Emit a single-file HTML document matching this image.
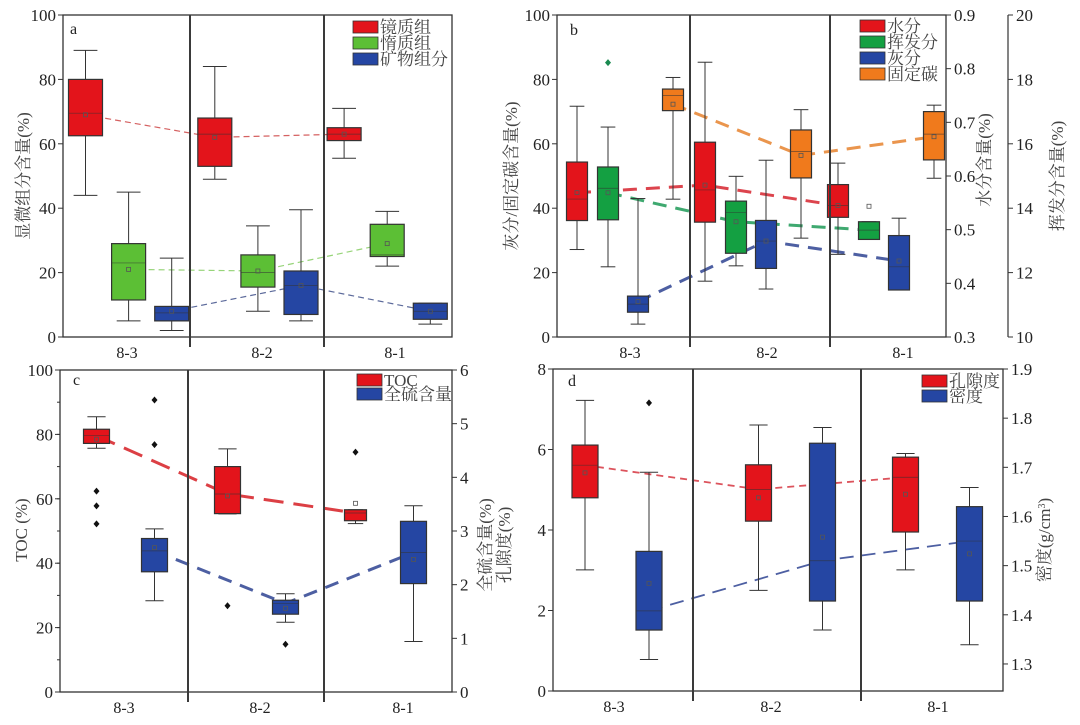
<!DOCTYPE html>
<html><head><meta charset="utf-8"><style>
body{margin:0;background:#fff;width:1080px;height:720px;overflow:hidden}
svg text{font-family:"Liberation Serif","Noto Serif CJK SC",serif;fill:#222}
.cj{font-family:"Liberation Serif","Noto Serif CJK SC",serif;fill:#444}
</style></head><body>
<svg id="chart" width="1080" height="720" viewBox="0 0 1080 720" xmlns="http://www.w3.org/2000/svg"></svg>
<script>
// Data arrays: each stat row = [lowWhisker, q1, median, q3, highWhisker, mean]
const categories = ["8-3","8-2","8-1"];
// Panel a
const aVitrinite = [[44,62.5,69.5,80,89,69],[49,53,63,68,84,62],[55.5,61,63,65,71,63]];
const aInertinite = [[5,11.5,23,29,45,21],[8,15.5,20,25.5,34.5,20.5],[22,25,25.5,35,39,29]];
const aMineral = [[2,5,7.5,9.5,24.5,8],[5,7,16,20.5,39.5,16],[4,5.5,8,10.5,10.5,8]];
// Panel b
const bMoisture = [[0.463,0.517,0.557,0.626,0.730,0.569],[0.404,0.514,0.574,0.663,0.812,0.583],[0.454,0.523,0.545,0.584,0.624,0.545]];
const bVolatile = [[12.18,13.64,14.62,15.28,16.52,14.48],[12.21,12.60,13.86,14.22,14.99,13.58],[13.03,13.03,13.32,13.58,13.58,14.06]];
const bVolatileLine = [14.48,13.58,13.32];
const bVolatileOutliers = [[18.52],[],[]];
const bAsh = [[4,7.7,10.2,12.7,43,11],[14.9,21.3,29.8,36.2,54.9,29.8],[14.6,14.6,21.8,31.5,36.9,23.6]];
const bFixedCarbon = [[42.8,70.3,75,77,80.6,72.3],[30.7,49.4,57.6,64.3,70.6,56.4],[49.3,55,63,70,72,62.2]];
// Panel c
const cTOC = [[75.7,77.2,79.6,81.6,85.5,78.5],[55.3,55.4,61.5,70,75.5,60.9],[52.3,53.2,55.6,56.6,56.6,58.6]];
const cTOCOutliers = [[62.4,57.8,52.2],[26.8],[74.5]];
const cSulfur = [[1.70,2.24,2.63,2.86,3.04,2.69],[1.30,1.45,1.65,1.71,1.83,1.56],[0.94,2.02,2.60,3.18,3.47,2.47]];
const cSulfurOutliers = [[5.44,4.61],[0.89],[]];
// Panel d
const dPorosity = [[3.01,4.80,5.61,6.11,7.22,5.42],[2.50,4.22,5.01,5.62,6.61,4.80],[3.01,3.95,5.31,5.81,5.90,4.89]];
const dDensity = [[1.309,1.369,1.408,1.529,1.690,1.464],[1.369,1.428,1.510,1.749,1.781,1.558],[1.339,1.428,1.550,1.620,1.659,1.524]];
const dDensityOutliers = [[1.831],[],[]];
// tick labels
const ticks0100 = [0,20,40,60,80,100];
const ticksMoist = ["0.3","0.4","0.5","0.6","0.7","0.8","0.9"];
const ticksVol = [10,12,14,16,18,20];
const ticksSulfur = [0,1,2,3,4,5,6];
const ticksPor = [0,2,4,6,8];
const ticksDens = ["1.3","1.4","1.5","1.6","1.7","1.8","1.9"];

const svg = document.getElementById('chart');
const NS = "http://www.w3.org/2000/svg";
function el(tag, attrs, parent){const e=document.createElementNS(NS,tag);for(const k in attrs)e.setAttribute(k,attrs[k]);(parent||svg).appendChild(e);return e;}
function txt(x,y,s,size,anchor,parent,cls){const t=el('text',{x:x,y:y,'font-size':size,'text-anchor':anchor||'middle'},parent);if(cls)t.setAttribute('class',cls);t.textContent=s;return t;}
function scale(min,max,bottom,top){return v=>bottom-(v-min)/(max-min)*(bottom-top);}

function frame(g,L,R,T,B,divs,catX){
  el('rect',{x:L,y:T,width:R-L,height:B-T,fill:'none',stroke:'#333','stroke-width':1.3},g);
  divs.forEach(d=>{const l=el('line',{x1:d,x2:d,y1:T,y2:B+10,stroke:'#3a3a3a','stroke-width':2},g);
    
    });
  categories.forEach((c,i)=>{const t=txt(catX[i],B+21,c,16,'middle',g);
    
    });
}
function yAxis(g,x,sc,vals,side,vmin,vmax,minor){
  vals.forEach(v=>{const y=sc(+v);const dx=side<0?-5:5;
    el('line',{x1:x,x2:x+dx,y1:y,y2:y,stroke:'#333'},g);
    const t=txt(side<0?x-7:x+8,y+6,String(v),17,side<0?'end':'start',g);
    
    });
  if(minor){for(let v=vmin;v<=vmax+1e-9;v+=minor){const y=sc(v);el('line',{x1:x,x2:x+(side<0?-3:3),y1:y,y2:y,stroke:'#333'},g);}}
}
function vtitle(g,x,y,s,size){const t=txt(0,0,s,size||15,'middle',g,'cj');t.setAttribute('transform',`translate(${x},${y}) rotate(-90)`);return t;}

function box(g,x,w,st,sc,fill,name){
  const bg=el('g',{},g);
  
  
  const cw=w*0.35;
  el('line',{x1:x,x2:x,y1:sc(st[0]),y2:sc(st[4]),stroke:'#333','stroke-width':1},bg);
  el('line',{x1:x-cw,x2:x+cw,y1:sc(st[0]),y2:sc(st[0]),stroke:'#333'},bg);
  el('line',{x1:x-cw,x2:x+cw,y1:sc(st[4]),y2:sc(st[4]),stroke:'#333'},bg);
  el('rect',{x:x-w/2,y:sc(st[3]),width:w,height:Math.max(1,sc(st[1])-sc(st[3])),fill:fill,stroke:'#333','stroke-width':1.2},bg);
  el('line',{x1:x-w/2,x2:x+w/2,y1:sc(st[2]),y2:sc(st[2]),stroke:'#333','stroke-width':0.7,opacity:0.7},bg);
  el('rect',{x:x-2,y:sc(st[5])-2,width:4,height:4,fill:'none',stroke:'#555','stroke-width':0.8},bg);
}
function outliers(g,x,vals,sc,col){vals.forEach(v=>{const y=sc(v);const d=el('path',{d:`M${x},${y-3.5}L${x+3},${y}L${x},${y+3.5}L${x-3},${y}Z`,fill:col},g);
  
  });}
function trend(g,xs,vals,sc,col,wid,dash,op){const pts=xs.map((x,i)=>x+','+sc(vals[i])).join(' ');
  const p=el('polyline',{points:pts,fill:'none',stroke:col,'stroke-width':wid,'stroke-dasharray':dash,opacity:op},g);
  
  }
function legend(g,x,y,items,step){items.forEach((it,i)=>{const lg=el('g',{},g);
  
  
  el('rect',{x:x,y:y+i*step,width:25,height:12,fill:it[1],stroke:'#333','stroke-width':0.8},lg);
  txt(x+27,y+i*step+12,it[0],17,'start',lg,'cj');});}

const RED='#e3141b',GREENA='#5cbf35',GREENB='#14a042',BLUE='#2546a3',ORANGE='#f07a1c';

// ---------- Panel a ----------
(function(){
  const g=el('g',{});
  const L=63,R=452,T=15,B=337;const sc=scale(0,100,B,T);
  const xAt=(c,s)=>85.5+(c*3+s)*43.1;
  const w=34;
  trend(g,[0,1,2].map(c=>xAt(c,0)),aVitrinite.map(r=>r[5]),sc,'#d05050',1.2,'6,4',0.9);
  trend(g,[0,1,2].map(c=>xAt(c,1)),aInertinite.map(r=>r[5]),sc,'#8ccf6a',1.2,'6,4',0.9);
  trend(g,[0,1,2].map(c=>xAt(c,2)),aMineral.map(r=>r[5]),sc,'#4a5a90',1.2,'6,4',0.9);
  [aVitrinite,aInertinite,aMineral].forEach((ser,s)=>ser.forEach((st,c)=>box(g,xAt(c,s),w,st,sc,[RED,GREENA,BLUE][s],'box-a-'+s+'-'+categories[c])));
  frame(g,L,R,T,B,[190,324],[127,262,395]);
  yAxis(g,L,sc,ticks0100,-1);
  vtitle(g,29,176,'显微组分含量(%)',17);
  txt(70,34,'a',16,'start',g);
  legend(g,353,21,[['镜质组',RED],['惰质组',GREENA],['矿物组分',BLUE]],16);
})();

// ---------- Panel b ----------
(function(){
  const g=el('g',{});
  const L=557,R=946,T=15,B=337;
  const sL=scale(0,100,B,T),sM=scale(0.3,0.9,B,T),sV=scale(10,20,B,T);
  const cx=[624,752,885],off=[-47,-16,14,49];const xAt=(c,s)=>cx[c]+off[s];const w=21;
  trend(g,[0,1,2].map(c=>xAt(c,0)),bMoisture.map(r=>r[5]),sM,'#d8303a',3,'14,9',0.9);
  trend(g,[0,1,2].map(c=>xAt(c,1)),bVolatileLine,sV,'#2aa060',3,'14,9',0.9);
  trend(g,[0,1,2].map(c=>xAt(c,2)),bAsh.map(r=>r[5]),sL,'#3a4e98',3,'14,9',0.9);
  trend(g,[0,1,2].map(c=>xAt(c,3)),bFixedCarbon.map(r=>r[5]),sL,'#e88a3a',3,'14,9',0.9);
  const sers=[[bMoisture,sM,RED],[bVolatile,sV,GREENB],[bAsh,sL,BLUE],[bFixedCarbon,sL,ORANGE]];
  sers.forEach((sr,s)=>sr[0].forEach((st,c)=>box(g,xAt(c,s),w,st,sr[1],sr[2],'box-b-'+s+'-'+categories[c])));
  bVolatileOutliers.forEach((o,c)=>outliers(g,xAt(c,1),o,sV,'#1a8a50'));
  frame(g,L,R,T,B,[690,830],[630,767,903]);
  yAxis(g,L,sL,ticks0100,-1);
  yAxis(g,R,sM,ticksMoist,1);
  el('line',{x1:1008,x2:1008,y1:T,y2:B,stroke:'#333','stroke-width':1.2},g);
  yAxis(g,1008,sV,ticksVol,1);
  vtitle(g,517,176,'灰分/固定碳含量(%)',17);
  vtitle(g,990,160,'水分含量(%)',17);
  vtitle(g,1063,176,'挥发分含量(%)',17);
  txt(570,35,'b',16,'start',g);
  legend(g,860,20,[['水分',RED],['挥发分',GREENB],['灰分',BLUE],['固定碳',ORANGE]],16);
})();

// ---------- Panel c ----------
(function(){
  const g=el('g',{});
  const L=60,R=452,T=370,B=692;
  const sL=scale(0,100,B,T),sR=scale(0,6,B,T);
  const cx=[125.5,256.5,384.5];const xAt=(c,s)=>cx[c]+(s?29:-29);const w=26;
  trend(g,[0,1,2].map(c=>xAt(c,0)),cTOC.map(r=>r[2]),sL,'#d82a30',3,'20,10',0.9);
  trend(g,[0,1,2].map(c=>xAt(c,1)),cSulfur.map(r=>r[2]),sR,'#3a4e98',3,'14,9',0.9);
  cTOC.forEach((st,c)=>box(g,xAt(c,0),c==2?22:w,st,sL,RED,'box-toc-'+categories[c]));
  cSulfur.forEach((st,c)=>box(g,xAt(c,1),w,st,sR,BLUE,'box-sulfur-'+categories[c]));
  cTOCOutliers.forEach((o,c)=>outliers(g,xAt(c,0),o,sL,'#111'));
  cSulfurOutliers.forEach((o,c)=>outliers(g,xAt(c,1),o,sR,'#111'));
  frame(g,L,R,T,B,[188,324],[124,260,403]);
  yAxis(g,L,sL,ticks0100,-1,0,100,10);
  yAxis(g,R,sR,ticksSulfur,1);
  vtitle(g,27,530,'TOC (%)',17);
  vtitle(g,491,545,'全硫含量(%)',17);
  txt(73,385,'c',16,'start',g);
  legend(g,357,374,[['TOC',RED],['全硫含量',BLUE]],14);
})();

// ---------- Panel d ----------
(function(){
  const g=el('g',{});
  const L=553,R=1003,T=369,B=691;
  const sL=scale(0,8,B,T),sR=scale(1.245,1.9,B,T);
  const cx=[617,790.5,937.5];const xAt=(c,s)=>cx[c]+(s?32:-32);const w=26;
  trend(g,[0,1,2].map(c=>xAt(c,0)),dPorosity.map(r=>r[2]),sL,'#d8404a',1.8,'7,5',0.9);
  trend(g,[0,1,2].map(c=>xAt(c,1)),dDensity.map(r=>r[2]),sR,'#3a4e98',1.8,'14,8',0.9);
  dPorosity.forEach((st,c)=>box(g,xAt(c,0),w,st,sL,RED,'box-porosity-'+categories[c]));
  dDensity.forEach((st,c)=>box(g,xAt(c,1),w,st,sR,BLUE,'box-density-'+categories[c]));
  dDensityOutliers.forEach((o,c)=>outliers(g,xAt(c,1),o,sR,'#111'));
  frame(g,L,R,T,B,[693,861],[614,771,938]);
  yAxis(g,L,sL,ticksPor,-1);
  yAxis(g,R,sR,ticksDens,1);
  vtitle(g,510,545,'孔隙度(%)',17);
  const t=vtitle(g,1050,540,'',17);
  t.textContent='密度(g/cm';
  const sup=el('tspan',{'baseline-shift':'super','font-size':10},t);sup.textContent='3';
  const cl=el('tspan',{},t);cl.textContent=')';
  txt(568,386,'d',16,'start',g);
  legend(g,922,375,[['孔隙度',RED],['密度',BLUE]],15);
})();
</script>
</body></html>
